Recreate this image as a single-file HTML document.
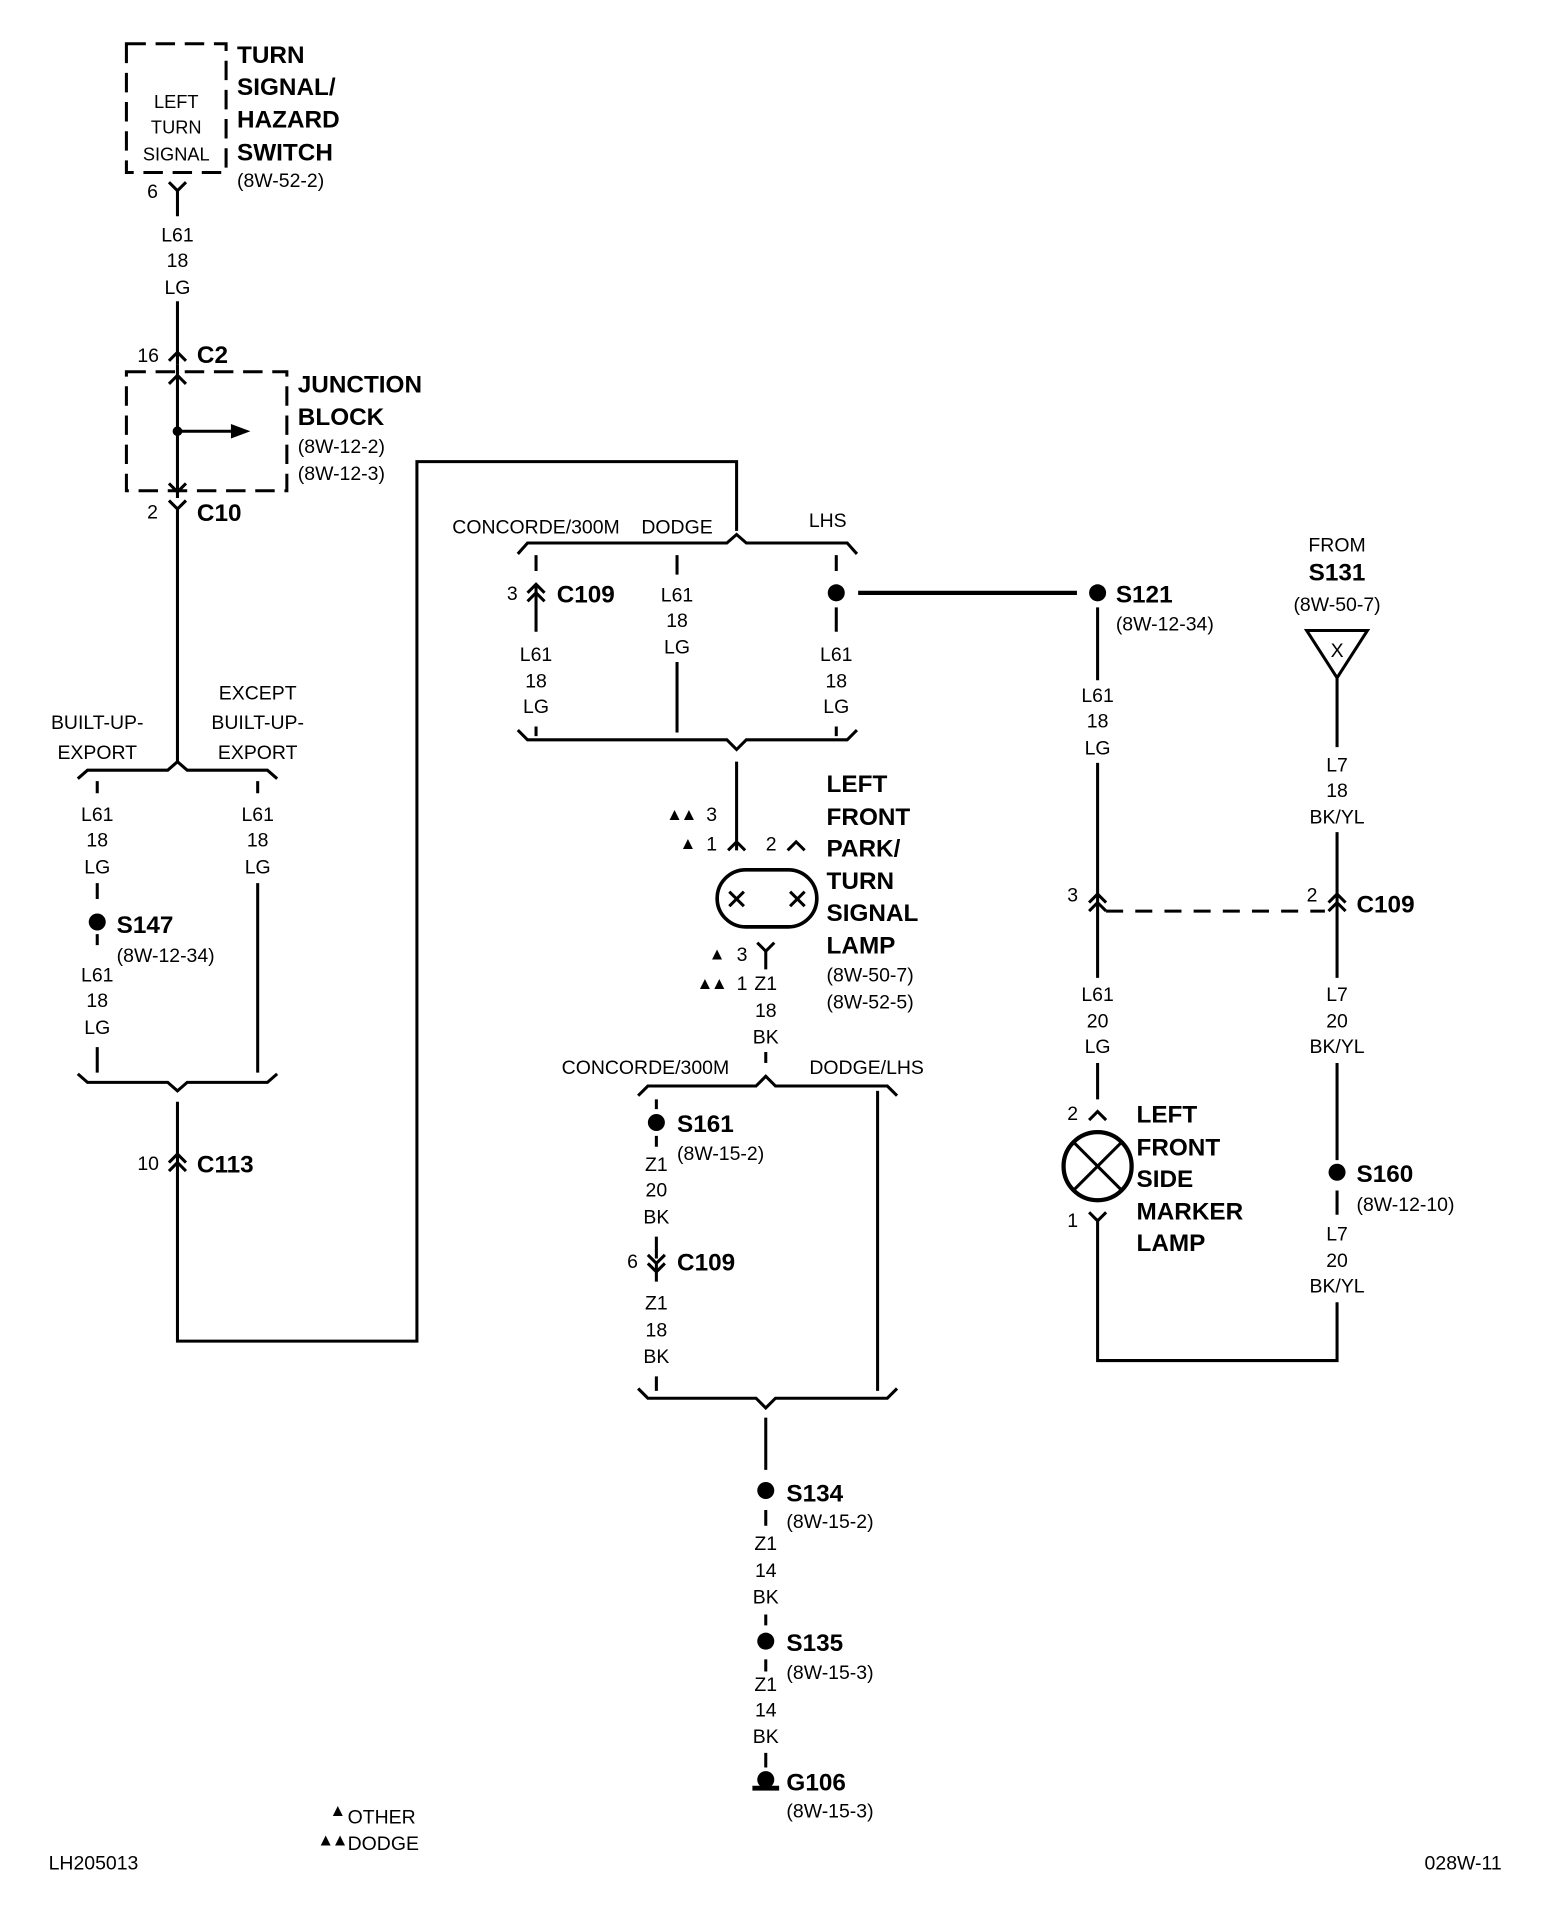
<!DOCTYPE html>
<html><head><meta charset="utf-8"><style>
html,body{margin:0;padding:0;background:#fff;}
svg{display:block;}
text{font-family:"Liberation Sans",sans-serif;fill:#000;}
.b{font-weight:bold;font-size:20px;}
.s{font-size:14px;letter-spacing:-2px;}
.m{font-size:16px;}
</style></head><body>
<svg width="1568" height="1906" viewBox="0 0 1290 1569" preserveAspectRatio="none" xmlns="http://www.w3.org/2000/svg">
<g fill="none" stroke="#000" stroke-width="2.5">
<rect x="104" y="36" width="82" height="106" stroke-dasharray="16,8"/>
<path d="M139,150 L146,157 L153,150 M146,157 V178"/>
<path d="M146,248 V300 M139,297 L146,290 L153,297"/>
<rect x="104" y="306" width="132" height="98" stroke-dasharray="16,8"/>
<path d="M146,300 V410 M139,316 L146,309 L153,316 M139,398 L146,405 L153,398 M146,355 H190"/>
<path d="M139,412 L146,419 L153,412 M146,419 V628"/>
<path d="M64,641 L72,634 H138 L146,627 L154,634 H220 L228,641"/>
<path d="M80,643 V653 M80,727 V740 M80,769 V778 M80,862 V883 M212,643 V653 M212,727 V883"/>
<path d="M64,884 L72,891 H138 L146,898 L154,891 H220 L228,884"/>
<path d="M146,907 V1104 H343 V380 H606 V437 M139,957 L146,950 L153,957 M139,964 L146,957 L153,964"/>
<path d="M426,456 L434,447 H598 L606,440 L614,447 H697 L705,456"/>
<path d="M441,457 V470 M434,488 L441,481 L448,488 M434,495 L441,488 L448,495 M441,481 V520 M441,598 V606"/>
<path d="M557,457 V473 M557,545 V603"/>
<path d="M688,457 V470 M688,500 V520 M688,598 V606"/>
<path d="M426,601 L434,609 H598 L606,617 L614,609 H697 L705,601"/>
<path d="M606,627 V700 M599,700 L606,693 L613,700 M648,700 L655,693 L662,700"/>
<rect x="590" y="716" width="82" height="47" rx="23.5" stroke-width="3"/>
<path d="M600,734 L612,746 M612,734 L600,746 M650,734 L662,746 M662,734 L650,746"/>
<path d="M623,776 L630,783 L637,776 M630,783 V798"/>
<path d="M630,866 V875"/>
<path d="M525,902 L533,894 H622 L630,886 L638,894 H730 L738,902"/>
<path d="M540,905 V913 M540,935 V944 M540,1018 V1036 M533,1033 L540,1040 L547,1033 M533,1040 L540,1047 L547,1040 M540,1040 V1055 M540,1133 V1145 M722,898 V1145"/>
<path d="M525,1143 L533,1151 H622 L630,1159 L638,1151 H730 L738,1143"/>
<path d="M630,1167 V1210 M630,1243 V1256 M630,1329 V1338 M630,1366 V1376 M630,1443 V1455"/>
<path d="M706,488 H886" stroke-width="3.5"/>
<path d="M903,500 V560 M903,628 V805 M903,875 V905 M896,743 L903,736 L910,743 M896,750 L903,743 L910,750"/>
<path d="M910,750 H1090" stroke-dasharray="14,10"/>
<path d="M896,922 L903,915 L910,922"/>
<circle cx="903" cy="960" r="28" stroke-width="3.5"/>
<path d="M883,940 L923,980 M923,940 L883,980" stroke-width="2.5"/>
<path d="M896,998 L903,1005 L910,998 M903,1005 V1120 H1100 V1072"/>
<path d="M1075,519 H1125 L1100,558 Z M1100,558 V615 M1100,685 V805 M1100,875 V955 M1093,743 L1100,736 L1107,743 M1093,750 L1100,743 L1107,750 M1100,980 V1000"/>
</g>
<g fill="#000">
<polygon points="190,349 206,355 190,361"/>
<circle cx="146" cy="355" r="4"/>
<circle cx="80" cy="759" r="7"/>
<circle cx="688" cy="488" r="7"/>
<circle cx="903" cy="488" r="7"/>
<circle cx="540" cy="924" r="7"/>
<circle cx="630" cy="1227" r="7"/>
<circle cx="630" cy="1351" r="7"/>
<circle cx="630" cy="1465" r="7"/>
<rect x="619" y="1470" width="22" height="4"/>
<circle cx="1100" cy="965" r="7"/>
</g>
<g text-anchor="middle" class="m">
<text x="145" y="89" font-size="15">LEFT</text><text x="145" y="110" font-size="15">TURN</text><text x="145" y="132" font-size="15">SIGNAL</text>
<text x="146" y="199">L61</text><text x="146" y="220">18</text><text x="146" y="242">LG</text>
<text x="80" y="600">BUILT-UP-</text><text x="80" y="625">EXPORT</text>
<text x="212" y="576">EXCEPT</text><text x="212" y="600">BUILT-UP-</text><text x="212" y="625">EXPORT</text>
<text x="80" y="676">L61</text><text x="80" y="697">18</text><text x="80" y="719">LG</text>
<text x="80" y="808">L61</text><text x="80" y="829">18</text><text x="80" y="851">LG</text>
<text x="212" y="676">L61</text><text x="212" y="697">18</text><text x="212" y="719">LG</text>
<text x="441" y="439">CONCORDE/300M</text><text x="557" y="439">DODGE</text><text x="681" y="434">LHS</text>
<text x="441" y="544">L61</text><text x="441" y="566">18</text><text x="441" y="587">LG</text>
<text x="557" y="495">L61</text><text x="557" y="516">18</text><text x="557" y="538">LG</text>
<text x="688" y="544">L61</text><text x="688" y="566">18</text><text x="688" y="587">LG</text>
<text x="630" y="815">Z1</text><text x="630" y="837">18</text><text x="630" y="859">BK</text>
<text x="531" y="884">CONCORDE/300M</text><text x="713" y="884">DODGE/LHS</text>
<text x="540" y="964">Z1</text><text x="540" y="985">20</text><text x="540" y="1007">BK</text>
<text x="540" y="1078">Z1</text><text x="540" y="1100">18</text><text x="540" y="1122">BK</text>
<text x="630" y="1276">Z1</text><text x="630" y="1298">14</text><text x="630" y="1320">BK</text>
<text x="630" y="1392">Z1</text><text x="630" y="1413">14</text><text x="630" y="1435">BK</text>
<text x="903" y="578">L61</text><text x="903" y="599">18</text><text x="903" y="621">LG</text>
<text x="903" y="824">L61</text><text x="903" y="846">20</text><text x="903" y="867">LG</text>
<text x="1100" y="454">FROM</text><text x="1100" y="478" class="b">S131</text><text x="1100" y="503">(8W-50-7)</text>
<text x="1100" y="541">X</text>
<text x="1100" y="635">L7</text><text x="1100" y="656">18</text><text x="1100" y="678">BK/YL</text>
<text x="1100" y="824">L7</text><text x="1100" y="846">20</text><text x="1100" y="867">BK/YL</text>
<text x="1100" y="1021">L7</text><text x="1100" y="1043">20</text><text x="1100" y="1064">BK/YL</text>
</g>
<g class="m">
<text x="195" y="52" class="b">TURN</text><text x="195" y="78" class="b">SIGNAL/</text><text x="195" y="105" class="b">HAZARD</text><text x="195" y="132" class="b">SWITCH</text>
<text x="195" y="154">(8W-52-2)</text>
<text x="121" y="163">6</text>
<text x="113" y="298">16</text><text x="162" y="299" class="b">C2</text>
<text x="245" y="323" class="b">JUNCTION</text><text x="245" y="350" class="b">BLOCK</text>
<text x="245" y="373">(8W-12-2)</text><text x="245" y="395">(8W-12-3)</text>
<text x="121" y="427">2</text><text x="162" y="429" class="b">C10</text>
<text x="96" y="768" class="b">S147</text><text x="96" y="792">(8W-12-34)</text>
<text x="113" y="963">10</text><text x="162" y="965" class="b">C113</text>
<text x="417" y="494">3</text><text x="458" y="496" class="b">C109</text>
<text x="918" y="496" class="b">S121</text><text x="918" y="519">(8W-12-34)</text>
<text x="548" y="675" class="s">▲▲</text><text x="581" y="676">3</text>
<text x="559" y="699" class="s">▲</text><text x="581" y="700">1</text><text x="630" y="700">2</text>
<text x="583" y="790" class="s">▲</text><text x="606" y="791">3</text>
<text x="573" y="814" class="s">▲▲</text><text x="606" y="815">1</text>
<text x="680" y="652" class="b">LEFT</text><text x="680" y="679" class="b">FRONT</text><text x="680" y="705" class="b">PARK/</text><text x="680" y="732" class="b">TURN</text><text x="680" y="758" class="b">SIGNAL</text><text x="680" y="785" class="b">LAMP</text>
<text x="680" y="808">(8W-50-7)</text><text x="680" y="830">(8W-52-5)</text>
<text x="557" y="932" class="b">S161</text><text x="557" y="955">(8W-15-2)</text>
<text x="516" y="1044">6</text><text x="557" y="1046" class="b">C109</text>
<text x="647" y="1236" class="b">S134</text><text x="647" y="1258">(8W-15-2)</text>
<text x="647" y="1359" class="b">S135</text><text x="647" y="1382">(8W-15-3)</text>
<text x="647" y="1474" class="b">G106</text><text x="647" y="1496">(8W-15-3)</text>
<text x="878" y="742">3</text><text x="1075" y="742">2</text><text x="1116" y="751" class="b">C109</text>
<text x="878" y="922">2</text><text x="878" y="1010">1</text>
<text x="935" y="924" class="b">LEFT</text><text x="935" y="951" class="b">FRONT</text><text x="935" y="977" class="b">SIDE</text><text x="935" y="1004" class="b">MARKER</text><text x="935" y="1030" class="b">LAMP</text>
<text x="1116" y="973" class="b">S160</text><text x="1116" y="997">(8W-12-10)</text>
<text x="271" y="1495" class="s">▲</text><text x="286" y="1501">OTHER</text>
<text x="261" y="1519" class="s">▲▲</text><text x="286" y="1523">DODGE</text>
<text x="40" y="1539">LH205013</text><text x="1172" y="1539">028W-11</text>
</g>
</svg>
</body></html>
